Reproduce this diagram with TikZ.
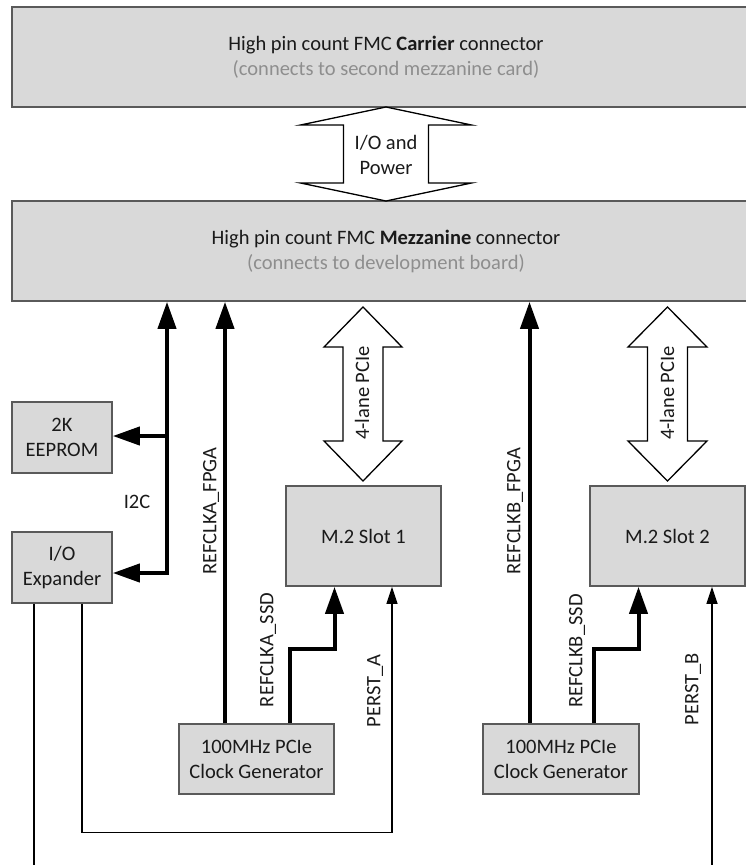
\documentclass[tikz,border=0pt]{standalone}
\usepackage{fontspec}
\setmainfont{Carlito}
\usetikzlibrary{arrows.meta}
\definecolor{boxfill}{HTML}{D9D9D9}
\definecolor{boxline}{HTML}{5A5A5A}
\definecolor{ink}{HTML}{1A1A1A}
\definecolor{subgray}{HTML}{8E8E8E}
\tikzset{
  bigtip/.tip={Triangle[length=27pt,width=18pt]},
  smalltip/.tip={Triangle[length=17pt,width=11pt]}
}
% hollow double-headed arrow: centre x, top tip y, bottom tip y,
% head half-width, shaft half-width, head length
\newcommand\fatarrow[6]{%
  \draw[hollow] (#1,#2) -- (#1+#4,#2+#6) -- (#1+#5,#2+#6) -- (#1+#5,#3-#6)
    -- (#1+#4,#3-#6) -- (#1,#3) -- (#1-#4,#3-#6) -- (#1-#5,#3-#6)
    -- (#1-#5,#2+#6) -- (#1-#4,#2+#6) -- cycle;}
\begin{document}
\begin{tikzpicture}[x=1pt,y=-1pt,
  font=\fontsize{20.5}{25}\selectfont, text=ink,
  blk/.style={draw=boxline, fill=boxfill, line width=1.6pt, align=center, inner sep=0pt},
  bus/.style={line width=4pt, line join=miter, -bigtip},
  sig/.style={line width=1.3pt, line join=miter, -smalltip},
  hollow/.style={draw=black, fill=white, line width=1.3pt, line join=miter},
  lbl/.style={inner sep=0pt, rotate=90}]
\clip (0,0) rectangle (746,865);

% connector blocks
\node[blk, minimum width=748pt, minimum height=100pt] (carrier) at (386,57)
  {High pin count FMC \textbf{Carrier} connector\\\textcolor{subgray}{(connects to second mezzanine card)}};
\node[blk, minimum width=748pt, minimum height=100pt] (mezz) at (386,251)
  {High pin count FMC \textbf{Mezzanine} connector\\\textcolor{subgray}{(connects to development board)}};

% on-board devices
\node[blk, minimum width=100pt, minimum height=71pt] (eeprom) at (62,437.5) {2K\\EEPROM};
\node[blk, minimum width=100pt, minimum height=71pt] (exp) at (62,567.5) {I/O\\Expander};
\node[blk, minimum width=155pt, minimum height=100pt] (slot1) at (363.5,536) {M.2 Slot 1};
\node[blk, minimum width=155pt, minimum height=100pt] (slot2) at (667.5,536) {M.2 Slot 2};
\node[blk, minimum width=155pt, minimum height=70pt] (clkA) at (256.5,759) {100MHz PCIe\\Clock Generator};
\node[blk, minimum width=156pt, minimum height=70pt] (clkB) at (561,759) {100MHz PCIe\\Clock Generator};

% wide buses
\fatarrow{386}{107}{201}{85.5}{42.5}{18}
\node[align=center] (iop) at (386,154.5) {I/O and\\Power};
\fatarrow{363}{307}{481}{39}{20}{40}
\node[lbl] (pcieA) at (362,393) {4-lane PCIe};
\fatarrow{667.5}{307}{481}{39.5}{20}{40}
\node[lbl] (pcieB) at (667,393) {4-lane PCIe};

% I2C bus
\coordinate (tap) at (167,436);
\draw[bus, bigtip-bigtip] ([yshift=-5.5pt]exp.east) -| (tap |- mezz.south);
\draw[bus] (tap) -- (tap -| eeprom.east);
\node (i2c) at (137,502) {I2C};

% reference clocks, slot A
\draw[bus] ([xshift=-31.5pt]clkA.north) -- ([xshift=-31.5pt]clkA.north |- mezz.south);
\node[lbl] (lfa) at (211,511) {REFCLKA\_FPGA};
\draw[bus] ([xshift=33.5pt]clkA.north) -- ++(0,-74) -| ([xshift=-29pt]slot1.south);
\node[lbl] (lsa) at (268,650) {REFCLKA\_SSD};

% reference clocks, slot B
\draw[bus] ([xshift=-31.5pt]clkB.north) -- ([xshift=-31.5pt]clkB.north |- mezz.south);
\node[lbl] (lfb) at (515,511) {REFCLKB\_FPGA};
\draw[bus] ([xshift=33pt]clkB.north) -- ++(0,-74) -| ([xshift=-29pt]slot2.south);
\node[lbl] (lsb) at (577,651) {REFCLKB\_SSD};

% reset lines and expander outputs
\draw[line width=1.3pt] ([xshift=-28pt]exp.south) -- ++(0,275);
\draw[sig] ([xshift=20pt]exp.south) -- ++(0,229) -| ([xshift=28.5pt]slot1.south);
\node[lbl] (lpa) at (375,691) {PERST\_A};
\coordinate (rstB) at (712,875);
\draw[sig] (rstB) -- (rstB |- slot2.south);
\node[lbl] (lpb) at (693,689) {PERST\_B};
\end{tikzpicture}
\end{document}
